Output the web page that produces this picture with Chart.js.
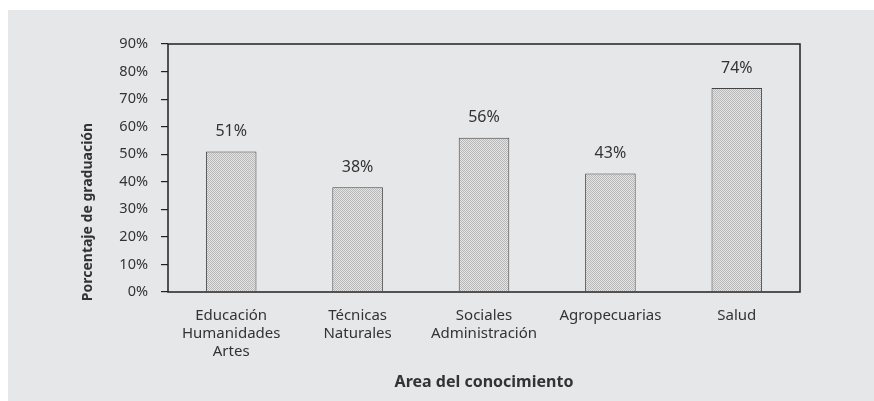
<!DOCTYPE html>
<html>
<head>
<meta charset="utf-8">
<script src="https://cdn.jsdelivr.net/npm/chart.js@4/dist/chart.umd.min.js"></script>
<style>
  html, body { margin: 0; padding: 0; background: #fff; width: 874px; height: 401px; overflow: hidden; }
  #wrap { position: absolute; left: 8px; top: 10px; width: 866px; height: 391px; background: #e6e7e8; }
</style>
</head>
<body>
<div id="wrap"><canvas id="chart" width="866" height="391"></canvas></div>
<script>
const categories = [
    ['Educación', 'Humanidades', 'Artes'],
    ['Técnicas', 'Naturales'],
    ['Sociales', 'Administración'],
    'Agropecuarias',
    'Salud'
];
const graduacion = [51, 38, 56, 43, 74];
const yTicks = [0, 10, 20, 30, 40, 50, 60, 70, 80, 90];

const FONT = "'Noto Sans', sans-serif";
const TEXT = '#333';

// dotted gray fill like the print pattern
function makePattern() {
    const c = document.createElement('canvas');
    c.width = 2;
    c.height = 2;
    const g = c.getContext('2d');
    g.fillStyle = '#e4e4e4';
    g.fillRect(0, 0, 2, 2);
    g.fillStyle = '#b8b8b8';
    g.fillRect(0, 0, 1, 1);
    g.fillRect(1, 1, 1, 1);
    return g.createPattern(c, 'repeat');
}

const boxAndLabels = {
    id: 'boxAndLabels',
    afterDraw(chart) {
        const ctx = chart.ctx;
        const a = chart.chartArea;
        ctx.save();
        ctx.strokeStyle = '#222';
        ctx.lineWidth = 1.5;
        ctx.strokeRect(a.left, a.top, a.right - a.left, a.bottom - a.top);

        // value labels above bars
        ctx.fillStyle = TEXT;
        ctx.font = '16px ' + FONT;
        ctx.textAlign = 'center';
        ctx.textBaseline = 'middle';
        chart.getDatasetMeta(0).data.forEach((bar, i) => {
            ctx.fillText(graduacion[i] + '%', bar.x, bar.y - 20);
        });

        // y axis title
        ctx.font = 'bold 14px ' + FONT;
        ctx.translate(80, 202);
        ctx.rotate(-Math.PI / 2);
        ctx.fillText('Porcentaje de graduación', 0, 0);
        ctx.restore();
    }
};

new Chart(document.getElementById('chart'), {
    type: 'bar',
    data: {
        labels: categories,
        datasets: [{
            data: graduacion,
            backgroundColor: makePattern(),
            borderColor: '#444',
            borderWidth: 1,
            barPercentage: 0.4,
            categoryPercentage: 1
        }]
    },
    options: {
        responsive: false,
        animation: false,
        layout: { padding: { left: 0, right: 74, top: 34, bottom: 0 } },
        plugins: {
            legend: { display: false },
            tooltip: { enabled: false }
        },
        scales: {
            x: {
                grid: { display: false, drawTicks: false },
                border: { display: false },
                ticks: {
                    color: TEXT,
                    padding: 15,
                    maxRotation: 0,
                    font: { family: FONT, size: 15, lineHeight: 1.2 }
                },
                title: {
                    display: true,
                    text: 'Area del conocimiento',
                    color: TEXT,
                    padding: { top: 0, bottom: 9 },
                    font: { family: FONT, size: 16, weight: 'bold' }
                },
                afterFit: (scale) => { scale.height = 109; }
            },
            y: {
                min: 0,
                max: 90,
                afterBuildTicks: (scale) => { scale.ticks = yTicks.map(v => ({ value: v })); },
                grid: { drawOnChartArea: false, drawTicks: true, tickLength: 7, color: '#222', lineWidth: 1.2 },
                border: { display: false },
                ticks: {
                    color: TEXT,
                    padding: 13,
                    font: { family: FONT, size: 14.5 },
                    callback: v => v + '%'
                },
                afterFit: (scale) => { scale.width = 160; }
            }
        }
    },
    plugins: [boxAndLabels]
});
</script>
</body>
</html>
